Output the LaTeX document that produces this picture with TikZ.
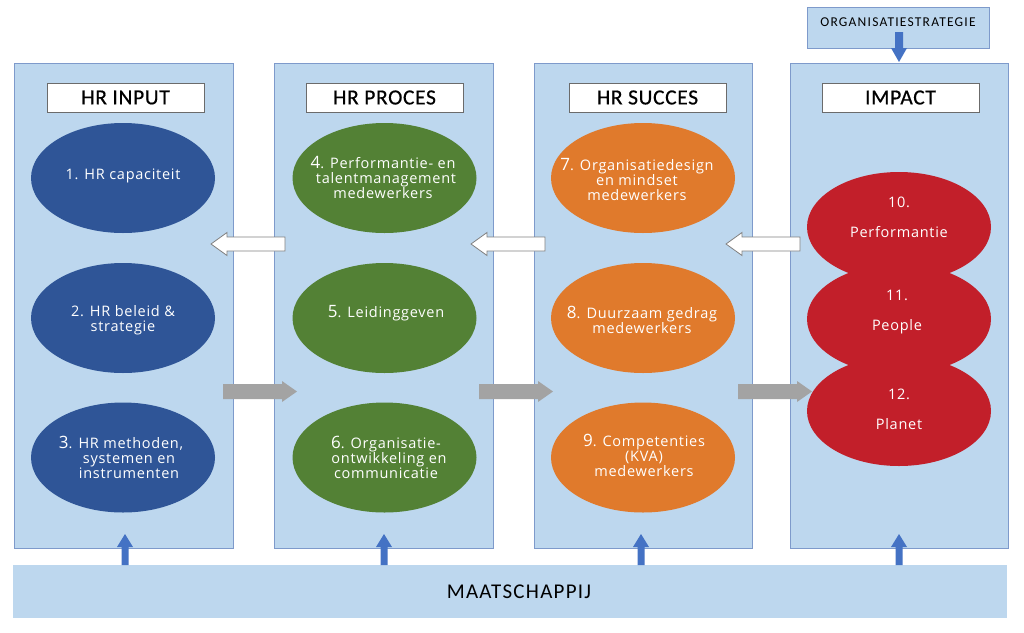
\documentclass[tikz,border=0pt]{standalone}
\usepackage{fontspec}
\setmainfont{Carlito}
\newfontfamily\ellfont[LetterSpace=5]{Open Sans}
\newfontfamily\headfont[LetterSpace=3,FakeBold=0.6]{Carlito}
\newfontfamily\barfont[LetterSpace=6]{Carlito}
\newfontfamily\orgfont[LetterSpace=9]{Carlito}
\definecolor{colfill}{HTML}{BDD7EE}
\definecolor{colborder}{HTML}{7E9ACB}
\definecolor{ellblue}{HTML}{2F5597}
\definecolor{ellgreen}{HTML}{538135}
\definecolor{ellorange}{HTML}{E07A2C}
\definecolor{ellred}{HTML}{C21F2A}
\definecolor{arrgray}{HTML}{A3A3A3}
\definecolor{arrblue}{HTML}{4472C4}
\definecolor{arrwhiteborder}{HTML}{808080}
\definecolor{headborder}{HTML}{6B6B6B}
\newcommand\numsz[1]{{\fontsize{17}{15}\selectfont #1}}
\newcommand\WArrowL[3]{% tip x, tail x, centre y
  \filldraw[fill=white,draw=arrwhiteborder,line width=0.8pt]
    (#1,#3) -- ({#1+16},{#3-11.5}) -- ({#1+16},{#3-7}) -- (#2,{#3-7})
    -- (#2,{#3+7}) -- ({#1+16},{#3+7}) -- ({#1+16},{#3+11.5}) -- cycle;}
\newcommand\GArrowR[3]{% tail x, tip x, centre y
  \fill[arrgray]
    (#1,{#3-7.5}) -- ({#2-15},{#3-7.5}) -- ({#2-15},{#3-10.5}) -- (#2,#3)
    -- ({#2-15},{#3+10.5}) -- ({#2-15},{#3+7.5}) -- (#1,{#3+7.5}) -- cycle;}
\newcommand\BArrowU[1]{% centre x
  \fill[arrblue]
    ({#1-3.5},565) -- ({#1-3.5},547) -- ({#1-8},547) -- (#1,534)
    -- ({#1+8},547) -- ({#1+3.5},547) -- ({#1+3.5},565) -- cycle;}
\tikzset{
  column/.style={draw=colborder,fill=colfill,line width=1pt,inner sep=0pt},
  header/.style={draw=headborder,fill=white,line width=0.8pt,inner sep=0pt,
    minimum width=157pt,minimum height=29pt,font=\headfont\fontsize{21.5}{24}\selectfont},
  ell/.style={ellipse,inner sep=0pt,minimum width=184pt,minimum height=110pt},
  etext/.style={text=white,align=center,inner sep=0pt,font=\ellfont\fontsize{14.5}{15}\selectfont},
}
\usetikzlibrary{shapes.geometric}
\begin{document}
\begin{tikzpicture}[x=1pt,y=-1pt]
\useasboundingbox (0,0) rectangle (1024,632);
\fill[white] (0,0) rectangle (1024,632);
% columns
\node[column,minimum width=219pt,minimum height=485pt] (c1) at (123.5,305.5) {};
\node[column,minimum width=219pt,minimum height=485pt] (c2) at (383.5,305.5) {};
\node[column,minimum width=218pt,minimum height=485pt] (c3) at (643,305.5) {};
\node[column,minimum width=218pt,minimum height=485pt] (c4) at (899,305.5) {};
% top strategy box
\node[column,minimum width=182pt,minimum height=41pt] (org) at (898,27.5) {};
\node[font=\orgfont\fontsize{13.5}{15}\selectfont,inner sep=0pt] (orgt) at (898,22) {ORGANISATIESTRATEGIE};
% bottom bar
\node[fill=colfill,inner sep=0pt,minimum width=994pt,minimum height=53pt] (bar) at (510,591.5) {};
\node[font=\barfont\fontsize{21}{24}\selectfont,inner sep=0pt] (bart) at (519,592) {MAATSCHAPPIJ};
% headers
\node[header] (h1) at (125.5,97.5) {HR INPUT};
\node[header] (h2) at (384.5,97.5) {HR PROCES};
\node[header] (h3) at (647.5,97.5) {HR SUCCES};
\node[header] (h4) at (900.5,97.5) {IMPACT};
% ellipses
\node[ell,fill=ellblue] (e1) at (123,178) {};
\node[ell,fill=ellblue] (e2) at (123,318) {};
\node[ell,fill=ellblue] (e3) at (123,457.5) {};
\node[ell,fill=ellgreen] (e4) at (384.5,178) {};
\node[ell,fill=ellgreen] (e5) at (384.5,318) {};
\node[ell,fill=ellgreen] (e6) at (384.5,457.5) {};
\node[ell,fill=ellorange] (e7) at (643,178) {};
\node[ell,fill=ellorange] (e8) at (643,318) {};
\node[ell,fill=ellorange] (e9) at (643,457.5) {};
\node[ell,fill=ellred] (e10) at (899,227) {};
\node[ell,fill=ellred] (e11) at (899,319) {};
\node[ell,fill=ellred] (e12) at (899,411) {};
% ellipse texts
\node[etext] (t1) at (123,176) {1. HR capaciteit};
\node[etext] (t2) at (123,320.5) {2. HR beleid \&\\strategie};
\node[etext] (t3) at (121,457) {\numsz{3}. HR methoden,\\\hspace*{16pt}systemen en\\\hspace*{16pt}instrumenten};
\node[etext] (t4) at (383,177.5) {\numsz{4}. Performantie- en\\\hspace*{6pt}talentmanagement\\medewerkers};
\node[etext] (t5) at (386,313) {\numsz{5}. Leidinggeven};
\node[etext] (t6) at (386,457) {\numsz{6}. Organisatie-\\\hspace*{6pt}ontwikkeling en\\communicatie};
\node[etext] (t7) at (637,179.5) {\numsz{7}. Organisatiedesign\\en mindset\\medewerkers};
\node[etext] (t8) at (642,319.5) {\numsz{8}. Duurzaam gedrag\\medewerkers};
\node[etext] (t9) at (644,455) {\numsz{9}. Competenties\\(KVA)\\medewerkers};
\node[etext] (t10) at (899,217.5) {10.\\[15pt]Performantie};
\node[etext] (t11) at (897,312) {11.\\[15pt]People};
\node[etext] (t12) at (899,409) {12.\\[15pt]Planet};
% white arrows (right to left)
\WArrowL{211}{285}{244}
\WArrowL{471}{545}{244}
\WArrowL{726}{800}{244}
% gray arrows (left to right)
\GArrowR{223}{297}{391.5}
\GArrowR{479}{553}{391.5}
\GArrowR{738}{812}{391.5}
% blue up arrows
\BArrowU{125}
\BArrowU{384}
\BArrowU{641}
\BArrowU{899}
% down arrow from strategy
\fill[arrblue] (895,32) -- (903,32) -- (903,48) -- (907,48) -- (899,62) -- (891,48) -- (895,48) -- cycle;
\end{tikzpicture}
\end{document}
